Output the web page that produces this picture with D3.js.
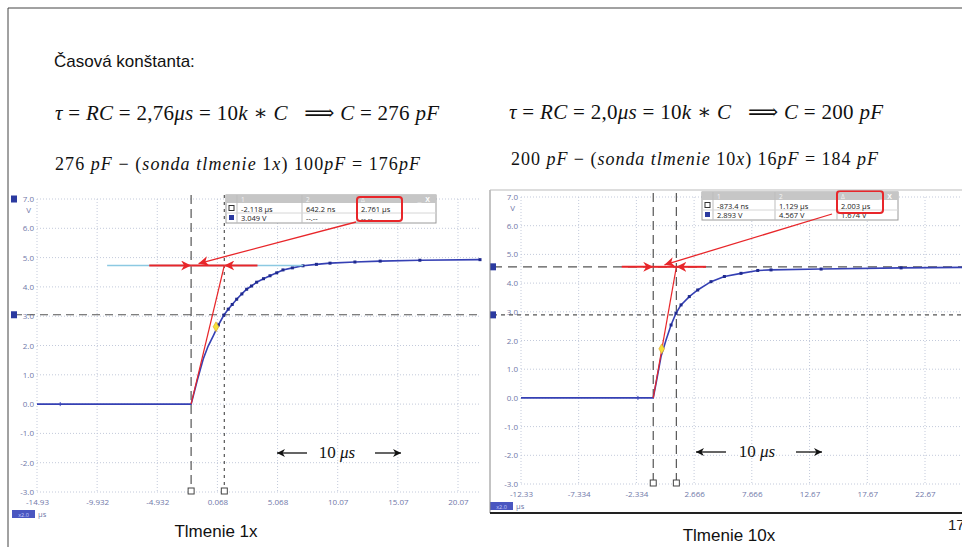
<!DOCTYPE html>
<html>
<head>
<meta charset="utf-8">
<script src="https://cdn.jsdelivr.net/npm/d3@7"></script>
<style>
    body { margin: 0; background: #fff; }
    svg { display: block; }
    text { white-space: pre; }
</style>
</head>
<body>
<div id="slide"></div>
<script>
// values
const voltTicks = [7, 6, 5, 4, 3, 2, 1, 0, -1, -2, -3];
const leftTimeTicks = ["-14.93", "-9.932", "-4.932", "0.068", "5.068", "10.07", "15.07", "20.07"];
const rightTimeTicks = ["-12.33", "-7.334", "-2.334", "2.666", "7.666", "12.67", "17.67", "22.67"];

const leftTime = [-14.93, -2.118, -1.6, -1.11, -0.7, -0.275, 0.15, 0.61, 0.97, 1.3, 1.67, 2.1, 2.5, 2.9, 3.33, 3.9, 4.44, 5.0, 5.52, 6.3, 7.18, 8.3, 9.43, 11.5, 13.6, 16.9, 21.9];
const leftVolts = [0, 0, 0.82, 1.54, 1.98, 2.33, 2.70, 3.04, 3.24, 3.40, 3.58, 3.76, 3.92, 4.03, 4.16, 4.28, 4.38, 4.48, 4.58, 4.65, 4.72, 4.77, 4.81, 4.85, 4.88, 4.91, 4.93];
const rightTime = [-12.33, -0.873, -0.63, -0.20, 0.235, 0.67, 1.10, 1.535, 2.25, 2.98, 4.13, 5.29, 6.73, 8.18, 9.33, 13.67, 20.6, 26.0];
const rightVolts = [0, 0, 0.51, 1.44, 2.02, 2.54, 2.95, 3.24, 3.53, 3.76, 4.05, 4.23, 4.34, 4.44, 4.46, 4.49, 4.53, 4.55];

const leftGlitch = [-13.0];
const rightGlitch = [-2.2];
const leftCursorTimes = [-2.118, 0.6422];
const leftCursorVolts = [3.049];
const rightCursorTimes = [-0.8734, 1.129];
const rightCursorVolts = [4.567, 2.893];
const leftTangentTop = 4.73;
const rightTangentTop = 4.567;
const leftMarkerPoint = [-0.05, 2.64];
const rightMarkerPoint = [-0.14, 1.71];

const leftReadout = [["1", "2", "\u0394"], ["-2.118 \u00b5s", "642.2 ns", "2.761 \u00b5s"], ["3.049 V", "--.--", "--.--"]];
const rightReadout = [["1", "2", "\u0394"], ["-873.4 ns", "1.129 \u00b5s", "2.003 \u00b5s"], ["2.893 V", "4.567 V", "1.674 V"]];

const W = 962, H = 547;
const svg = d3.select("#slide").append("svg").attr("width", W).attr("height", H);
const defs = svg.append("defs");

defs.append("marker")
    .attr("id", "redhead")
    .attr("viewBox", "0 0 10 10")
    .attr("refX", 10).attr("refY", 5)
    .attr("markerWidth", 10).attr("markerHeight", 10)
    .attr("markerUnits", "userSpaceOnUse")
    .attr("orient", "auto")
    .append("path")
    .attr("d", "M0,0 L10,5 L0,10 L3,5 Z")
    .attr("fill", "#e8262a");

defs.append("marker")
    .attr("id", "blackhead")
    .attr("viewBox", "0 0 10 10")
    .attr("refX", 10).attr("refY", 5)
    .attr("markerWidth", 9).attr("markerHeight", 8)
    .attr("markerUnits", "userSpaceOnUse")
    .attr("orient", "auto")
    .append("path")
    .attr("d", "M0,0 L10,5 L0,10 L3,5 Z")
    .attr("fill", "#111");

// slide frame
svg.append("line").attr("x1", 8).attr("y1", 8).attr("x2", W).attr("y2", 8).attr("stroke", "#444").attr("stroke-width", 1);
svg.append("line").attr("x1", 8).attr("y1", 8).attr("x2", 8).attr("y2", H).attr("stroke", "#444").attr("stroke-width", 1);

// headings
svg.append("text")
   .attr("x", 54).attr("y", 67)
   .attr("font-family", "Liberation Sans, Arial, sans-serif")
   .attr("font-size", 17)
   .attr("fill", "#111")
   .text("\u010casov\u00e1 kon\u0161tanta:");

function mathLine(x, y, size, width, parts) {
    const t = svg.append("text")
                 .attr("x", x).attr("y", y)
                 .attr("font-family", "Liberation Serif, DejaVu Serif, serif")
                 .attr("font-size", size)
                 .attr("fill", "#111")
                 .attr("textLength", width)
                 .attr("lengthAdjust", "spacing");
    parts.forEach(function (p) {
        t.append("tspan")
         .attr("font-style", p[1] ? "italic" : "normal")
         .text(p[0]);
    });
}

mathLine(55, 120, 21, 384, [["\u03c4", 1], [" = ", 0], ["RC", 1], [" = 2,76", 0], ["\u03bcs", 1], [" = 10", 0], ["k", 1], [" \u2217 ", 0], ["C", 1], ["   \u27f9 ", 0], ["C", 1], [" = 276 ", 0], ["pF", 1]]);
mathLine(55, 170, 18, 365, [["276 ", 0], ["pF", 1], [" \u2212 (", 0], ["sonda tlmenie", 1], [" 1", 0], ["x", 1], [") 100", 0], ["pF", 1], [" = 176", 0], ["pF", 1]]);
mathLine(509, 119, 21, 374, [["\u03c4", 1], [" = ", 0], ["RC", 1], [" = 2,0", 0], ["\u03bcs", 1], [" = 10", 0], ["k", 1], [" \u2217 ", 0], ["C", 1], ["   \u27f9 ", 0], ["C", 1], [" = 200 ", 0], ["pF", 1]]);
mathLine(511, 165, 18, 367, [["200 ", 0], ["pF", 1], [" \u2212 (", 0], ["sonda tlmenie", 1], [" 10", 0], ["x", 1], [") 16", 0], ["pF", 1], [" = 184 ", 0], ["pF", 1]]);

function drawScope(cfg) {
    const g = svg.append("g");
    const x = d3.scaleLinear().domain(cfg.xDomain).range(cfg.xRange);
    const y = d3.scaleLinear().domain([-3, 7]).range(cfg.yRange);
    const left = cfg.xRange[0], right = cfg.plotRight;
    const top = cfg.yRange[1], bottom = cfg.yRange[0];
    const tickNums = cfg.timeTicks.map(Number);

    // grid
    g.selectAll("line.hgrid")
     .data(voltTicks)
     .enter()
     .append("line")
     .attr("x1", left).attr("x2", right)
     .attr("y1", function (d) { return y(d); })
     .attr("y2", function (d) { return y(d); })
     .attr("stroke", "#c3cadb")
     .attr("stroke-dasharray", "1,2");
    g.selectAll("line.vgrid")
     .data(tickNums)
     .enter()
     .append("line")
     .attr("x1", function (d) { return x(d); })
     .attr("x2", function (d) { return x(d); })
     .attr("y1", top).attr("y2", bottom)
     .attr("stroke", "#c3cadb")
     .attr("stroke-dasharray", "1,2");

    // axes
    const yAxis = g.append("g")
                   .attr("transform", "translate(" + (left - 1) + ",0)")
                   .call(d3.axisLeft(y).tickValues(voltTicks).tickSize(0).tickPadding(2)
                           .tickFormat(function (d) { return d.toFixed(1); }));
    const xAxis = g.append("g")
                   .attr("transform", "translate(0," + (bottom + 5) + ")")
                   .call(d3.axisBottom(x).tickValues(tickNums).tickSize(0).tickPadding(2)
                           .tickFormat(function (d, i) { return cfg.timeTicks[i]; }));
    [yAxis, xAxis].forEach(function (a) {
        a.select(".domain").remove();
        a.selectAll("text")
         .attr("fill", "#6f78a8")
         .attr("font-family", "Open Sans, Liberation Sans, sans-serif")
         .attr("font-size", 8);
    });
    g.append("text")
     .attr("x", left - 6).attr("y", y(7) + 14)
     .attr("text-anchor", "end")
     .attr("fill", "#6f78a8")
     .attr("font-family", "Open Sans, sans-serif")
     .attr("font-size", 8)
     .text("V");

    // x2.0 badge
    g.append("rect")
     .attr("x", cfg.badge[0]).attr("y", cfg.badge[1])
     .attr("width", 23).attr("height", 8)
     .attr("fill", "#4a56c0");
    g.append("text")
     .attr("x", cfg.badge[0] + 11.5).attr("y", cfg.badge[1] + 6.5)
     .attr("text-anchor", "middle")
     .attr("fill", "#c8ceff")
     .attr("font-family", "Open Sans, sans-serif")
     .attr("font-size", 5.5)
     .text("x2.0");
    g.append("text")
     .attr("x", cfg.badge[0] + 26).attr("y", cfg.badge[1] + 7)
     .attr("fill", "#6f78a8")
     .attr("font-family", "Open Sans, sans-serif")
     .attr("font-size", 7.5)
     .text("\u00b5s");

    // horizontal cursors
    cfg.cursorVolts.forEach(function (v, i) {
        g.append("line")
         .attr("x1", cfg.markerX).attr("x2", right)
         .attr("y1", y(v)).attr("y2", y(v))
         .attr("stroke", "#555")
         .attr("stroke-width", 1.2)
         .attr("stroke-dasharray", cfg.hDash[i]);
        g.append("rect")
         .attr("x", cfg.markerX - 3).attr("y", y(v) - 3.5)
         .attr("width", 6).attr("height", 7)
         .attr("fill", "#2b3aa0");
    });
    if (cfg.topMarker) {
        g.append("rect")
         .attr("x", cfg.markerX - 3).attr("y", y(7) - 3.5)
         .attr("width", 6).attr("height", 7)
         .attr("fill", "#2b3aa0");
    }

    // vertical cursors
    cfg.cursorTimes.forEach(function (t, i) {
        g.append("line")
         .attr("x1", x(t)).attr("x2", x(t))
         .attr("y1", top - 4).attr("y2", bottom - 4)
         .attr("stroke", "#555")
         .attr("stroke-width", 1.2)
         .attr("stroke-dasharray", cfg.vDash[i]);
        g.append("rect")
         .attr("x", x(t) - 3).attr("y", bottom - 4)
         .attr("width", 6).attr("height", 6)
         .attr("fill", "#fff")
         .attr("stroke", "#444")
         .attr("stroke-width", 1);
    });

    // trace
    const pts = d3.zip(cfg.time, cfg.volts);
    const line = d3.line()
                   .x(function (d) { return x(d[0]); })
                   .y(function (d) { return y(d[1]); });
    g.append("path")
     .datum(pts)
     .attr("d", line)
     .attr("fill", "none")
     .attr("stroke", "#3540b4")
     .attr("stroke-width", 1.6);
    g.selectAll("rect.sample")
     .data(pts.filter(function (d) { return d[1] > 2.5; }))
     .enter()
     .append("rect")
     .attr("x", function (d) { return x(d[0]) - 1.5; })
     .attr("y", function (d) { return y(d[1]) - 1.5; })
     .attr("width", 3).attr("height", 3)
     .attr("fill", "#1f2a8e");
    g.selectAll("line.glitch")
     .data(cfg.glitch)
     .enter()
     .append("line")
     .attr("x1", function (d) { return x(d); })
     .attr("x2", function (d) { return x(d); })
     .attr("y1", y(0) - 2).attr("y2", y(0) + 2)
     .attr("stroke", "#3d47bb");

    // tangent, plateau and arrows
    const t0 = cfg.cursorTimes[0], t1 = cfg.cursorTimes[1];
    if (cfg.plateauLine) {
        g.append("line")
         .attr("x1", x(cfg.plateauLine[0])).attr("x2", x(cfg.plateauLine[1]))
         .attr("y1", y(cfg.tangentTop)).attr("y2", y(cfg.tangentTop))
         .attr("stroke", "#8cc9e2").attr("stroke-width", 1.4);
    }
    g.append("line")
     .attr("x1", x(t0)).attr("y1", y(0))
     .attr("x2", x(t1)).attr("y2", y(cfg.tangentTop))
     .attr("stroke", "#e8262a").attr("stroke-width", 1.2);
    g.append("line")
     .attr("x1", x(cfg.redSpan[0])).attr("x2", x(t0))
     .attr("y1", y(cfg.tangentTop)).attr("y2", y(cfg.tangentTop))
     .attr("stroke", "#e8262a").attr("stroke-width", 2)
     .attr("marker-end", "url(#redhead)");
    g.append("line")
     .attr("x1", x(cfg.redSpan[1])).attr("x2", x(t1))
     .attr("y1", y(cfg.tangentTop)).attr("y2", y(cfg.tangentTop))
     .attr("stroke", "#e8262a").attr("stroke-width", 2)
     .attr("marker-end", "url(#redhead)");
    g.append("line")
     .attr("x1", x(t0)).attr("x2", x(t1))
     .attr("y1", y(cfg.tangentTop)).attr("y2", y(cfg.tangentTop))
     .attr("stroke", "#e8262a").attr("stroke-width", 2);

    g.append("path")
     .attr("transform", "translate(" + x(cfg.marker[0]) + "," + y(cfg.marker[1]) + ")")
     .attr("d", d3.symbol().type(d3.symbolDiamond).size(28))
     .attr("fill", "#f4e13a")
     .attr("stroke", "#e0a020")
     .attr("stroke-width", 0.6);

    // readout box
    const bx = cfg.box[0], by = cfg.box[1];
    const colX = [bx, bx + 11, bx + cfg.colW[0], bx + cfg.colW[1], bx + cfg.colW[2]];
    g.append("rect")
     .attr("x", bx).attr("y", by)
     .attr("width", cfg.colW[2]).attr("height", 28)
     .attr("fill", "#fff").attr("stroke", "#9a9a9a");
    g.append("rect")
     .attr("x", bx).attr("y", by)
     .attr("width", cfg.colW[2]).attr("height", 8)
     .attr("fill", "#c6c6c6");
    [colX[1], colX[2], colX[3]].forEach(function (cx) {
        g.append("line")
         .attr("x1", cx).attr("x2", cx)
         .attr("y1", by).attr("y2", by + 28)
         .attr("stroke", "#bdbdbd");
    });
    g.append("line")
     .attr("x1", bx).attr("x2", bx + cfg.colW[2])
     .attr("y1", by + 18).attr("y2", by + 18)
     .attr("stroke", "#d6d6d6");
    cfg.readout.forEach(function (row, r) {
        row.forEach(function (cell, c) {
            g.append("text")
             .attr("x", colX[c + 1] + 4)
             .attr("y", by + (r === 0 ? 7 : 7 + r * 9.5))
             .attr("fill", r === 0 ? "#f4f4f4" : "#222")
             .attr("font-family", "Open Sans, Liberation Sans, sans-serif")
             .attr("font-size", r === 0 ? 6.5 : 7.5)
             .text(cell);
        });
    });
    g.append("text")
     .attr("x", bx + cfg.colW[2] - 6).attr("y", by + 7)
     .attr("text-anchor", "end")
     .attr("fill", "#fff")
     .attr("font-family", "Liberation Sans, sans-serif")
     .attr("font-size", 7)
     .attr("font-weight", "bold")
     .text("_  X");
    g.append("rect")
     .attr("x", bx + 3).attr("y", by + 10.5)
     .attr("width", 5).attr("height", 5)
     .attr("fill", "#fff").attr("stroke", "#333");
    g.append("rect")
     .attr("x", bx + 3).attr("y", by + 20)
     .attr("width", 5).attr("height", 5)
     .attr("fill", "#2b3aa0");
    g.append("rect")
     .attr("x", cfg.hilite[0]).attr("y", cfg.hilite[1])
     .attr("width", cfg.hilite[2]).attr("height", cfg.hilite[3])
     .attr("rx", 3)
     .attr("fill", "none")
     .attr("stroke", "#e8262a").attr("stroke-width", 2);
    g.append("line")
     .attr("x1", cfg.pointer[0]).attr("y1", cfg.pointer[1])
     .attr("x2", x(cfg.pointerT)).attr("y2", y(cfg.tangentTop) - 2)
     .attr("stroke", "#e8262a").attr("stroke-width", 1.3)
     .attr("marker-end", "url(#redhead)");

    // 10 us span annotation
    const ay = cfg.span[2];
    g.append("line")
     .attr("x1", cfg.span[0] + 30).attr("x2", cfg.span[0])
     .attr("y1", ay).attr("y2", ay)
     .attr("stroke", "#111").attr("stroke-width", 1.3)
     .attr("marker-end", "url(#blackhead)");
    g.append("line")
     .attr("x1", cfg.span[1] - 26).attr("x2", cfg.span[1])
     .attr("y1", ay).attr("y2", ay)
     .attr("stroke", "#111").attr("stroke-width", 1.3)
     .attr("marker-end", "url(#blackhead)");
    const lab = g.append("text")
                 .attr("x", (cfg.span[0] + cfg.span[1]) / 2 - 2).attr("y", ay + 5)
                 .attr("text-anchor", "middle")
                 .attr("font-family", "Liberation Serif, serif")
                 .attr("font-size", 17)
                 .attr("fill", "#111");
    lab.append("tspan").text("10 ");
    lab.append("tspan").attr("font-style", "italic").text("\u03bcs");

    g.append("text")
     .attr("x", cfg.caption[0]).attr("y", cfg.caption[1])
     .attr("text-anchor", "middle")
     .attr("font-family", "Liberation Sans, Arial, sans-serif")
     .attr("font-size", 17)
     .attr("fill", "#111")
     .text(cfg.caption[2]);
}

drawScope({
    xDomain: [-14.93, 20.07], xRange: [37, 458], yRange: [492, 199], plotRight: 480,
    timeTicks: leftTimeTicks, time: leftTime, volts: leftVolts, glitch: leftGlitch,
    cursorTimes: leftCursorTimes, cursorVolts: leftCursorVolts,
    hDash: ["8,5"], vDash: ["9,5", "3,4"], markerX: 14, topMarker: true,
    tangentTop: leftTangentTop, plateauLine: [-9.1, 7.2], redSpan: [-5.6, 3.4],
    marker: leftMarkerPoint,
    box: [226, 195], colW: [76, 131, 210], readout: leftReadout,
    hilite: [357, 197, 45, 24], pointer: [356, 222], pointerT: -1.5,
    span: [277, 401, 453], caption: [216, 537, "Tlmenie 1x"], badge: [12, 510]
});

drawScope({
    xDomain: [-12.33, 22.67], xRange: [521, 925], yRange: [484, 197], plotRight: 962,
    timeTicks: rightTimeTicks, time: rightTime, volts: rightVolts, glitch: rightGlitch,
    cursorTimes: rightCursorTimes, cursorVolts: rightCursorVolts,
    hDash: ["9,6", "4,4"], vDash: ["9,5", "9,5"], markerX: 493, topMarker: false,
    tangentTop: rightTangentTop, plateauLine: null, redSpan: [-3.6, 3.7],
    marker: rightMarkerPoint,
    box: [702, 192], colW: [73, 135, 196], readout: rightReadout,
    hilite: [837, 191, 46, 22], pointer: [832, 214], pointerT: 0.1,
    span: [696, 822, 452], caption: [729, 541, "Tlmenie 10x"], badge: [490, 502]
});

// right screenshot frame and page number
svg.append("line").attr("x1", 490).attr("x2", 490).attr("y1", 190).attr("y2", 513).attr("stroke", "#888");
svg.append("line").attr("x1", 490).attr("x2", W).attr("y1", 190).attr("y2", 190).attr("stroke", "#bbb");
svg.append("line").attr("x1", 490).attr("x2", W).attr("y1", 513).attr("y2", 513).attr("stroke", "#222").attr("stroke-width", 2);
svg.append("text")
   .attr("x", 948).attr("y", 530)
   .attr("font-family", "Liberation Sans, Arial, sans-serif")
   .attr("font-size", 15)
   .attr("fill", "#222")
   .text("17");
</script>
</body>
</html>
